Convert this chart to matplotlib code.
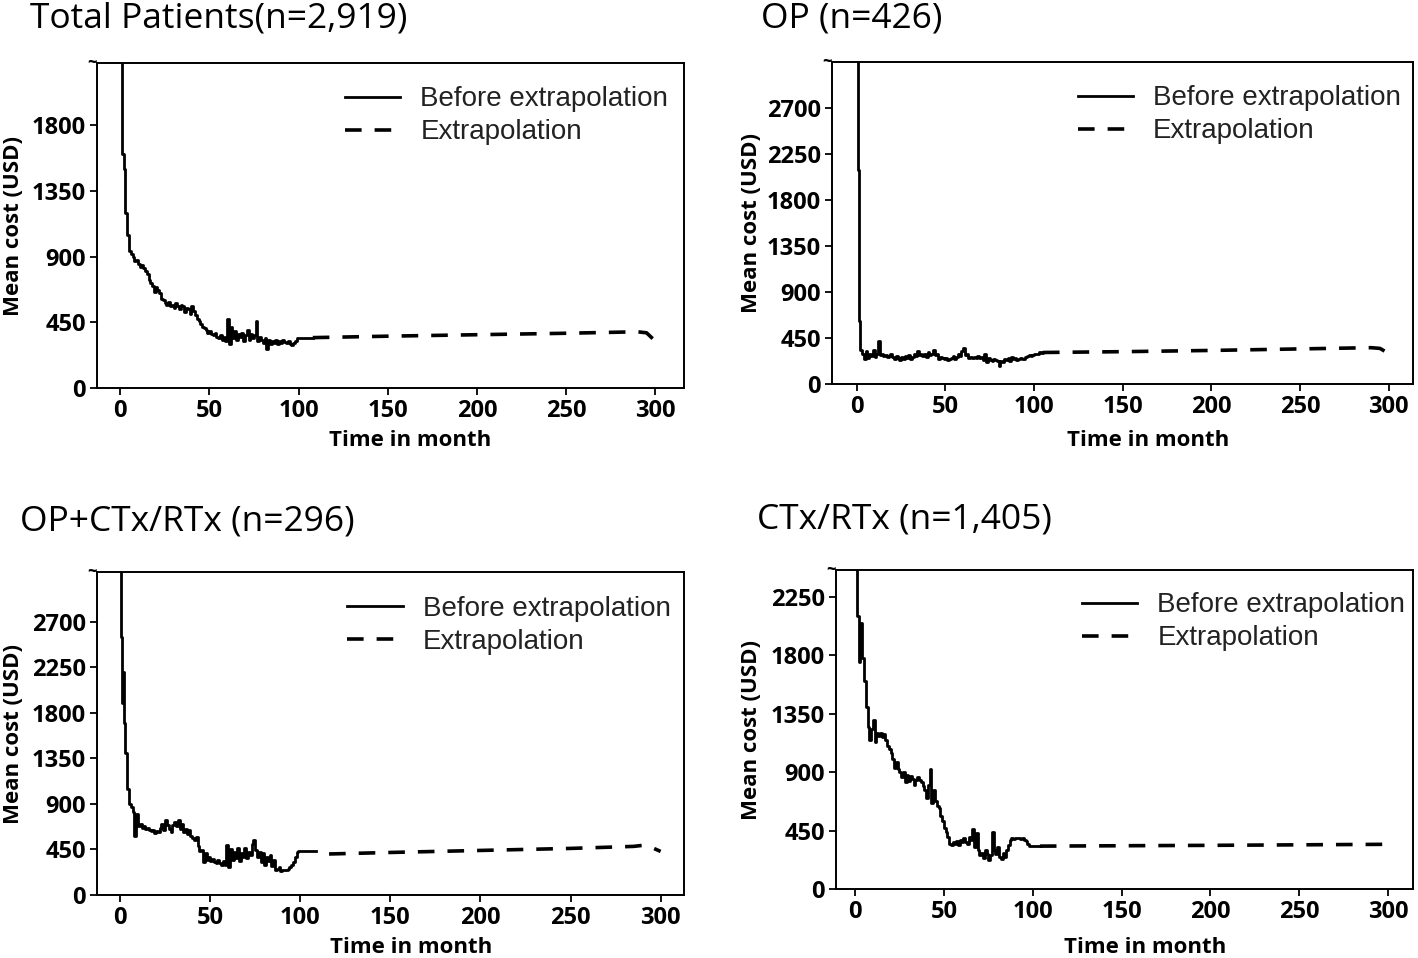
import matplotlib
matplotlib.use("Agg")
import matplotlib.pyplot as plt

# ---- data ----
titles = ["Total Patients(n=2,919)", "OP (n=426)", "OP+CTx/RTx (n=296)", "CTx/RTx (n=1,405)"]
legend_labels = ["Before extrapolation", "Extrapolation"]
x_ticks = [0, 50, 100, 150, 200, 250, 300]
y_ticks_total = [0, 450, 900, 1350, 1800]
y_ticks_op = [0, 450, 900, 1350, 1800, 2250, 2700]
y_ticks_opc = [0, 450, 900, 1350, 1800, 2250, 2700]
y_ticks_ctx = [0, 450, 900, 1350, 1800, 2250]

# Total patients, observed months 0..108
tot_x = list(range(0, 109))
tot_y = [3000, 1600, 1500, 1200, 1050, 940, 920, 900, 870, 880,
         850, 830, 840, 820, 800, 780, 740, 720, 700, 660,
         690, 670, 650, 610, 600, 580, 570, 590, 560, 570,
         550, 580, 560, 540, 570, 560, 520, 550, 540, 510,
         560, 530, 500, 470, 460, 440, 420, 410, 400, 380,
         390, 370, 360, 380, 350, 340, 360, 330, 350, 320,
         470, 300, 420, 340, 390, 330, 370, 350, 380, 320,
         360, 400, 330, 370, 340, 360, 460, 320, 350, 330,
         310, 340, 270, 330, 300, 320, 310, 330, 300, 320,
         310, 330, 315, 305, 320, 300, 295, 310, 325, 340,
         342, 342, 343, 343, 344, 344, 345, 345, 345]
tot_ex_x = [108, 150, 200, 250, 290, 295, 300]
tot_ex_y = [345, 355, 365, 375, 385, 378, 320]

# OP
op_x = [0, 0.5, 1, 1.5] + list(range(2, 106))
op_y = [3300, 2100, 1000, 620, 330, 300, 250, 320, 260, 300,
        280, 330, 270, 300, 420, 290, 300, 280, 290, 270,
        280, 300, 270, 250, 280, 260, 240, 270, 250, 280,
        260, 290, 250, 270, 300, 280, 320, 290, 300, 280,
        300, 270, 310, 290, 300, 330, 290, 300, 250, 270,
        260, 250, 260, 240, 250, 260, 280, 250, 270, 300,
        280, 320, 350, 290, 300, 260, 270, 260, 270, 260,
        280, 260, 270, 240, 300, 220, 260, 240, 230, 250,
        240, 230, 180, 230, 220, 250, 240, 260, 230, 270,
        250, 260, 240, 250, 260, 250, 245, 270, 280, 290,
        280, 290, 300, 295, 300, 310, 305, 310]
op_ex_x = [105, 150, 200, 250, 290, 295, 302]
op_ex_y = [310, 318, 330, 345, 357, 350, 280]

# OP + CTx/RTx
opc_x = [0, 0.5, 1, 1.5] + list(range(2, 110))
opc_y = [3400, 2550, 1900, 2200, 1700, 1400, 1050, 900, 870, 820,
         580, 800, 680, 700, 660, 680, 650, 660, 640, 630,
         640, 610, 630, 620, 660, 700, 640, 740, 690, 650,
         620, 690, 720, 680, 740, 650, 700, 620, 650, 600,
         640, 580, 560, 540, 570, 480, 430, 440, 330, 410,
         350, 380, 340, 360, 330, 320, 350, 320, 300, 340,
         300, 490, 280, 450, 350, 420, 370, 460, 340, 410,
         380, 460, 370, 420, 390, 500, 540, 440, 380, 420,
         330, 410, 300, 380, 340, 390, 290, 350, 250, 260,
         280, 240, 250, 250, 250, 260, 280, 300, 330, 380,
         420, 430, 435, 435, 435, 432, 432, 430, 430, 430,
         430, 430]
opc_ex_x = [116, 150, 200, 250, 285, 290, 295, 300]
opc_ex_y = [405, 420, 440, 460, 480, 490, 470, 430]

# CTx/RTx
ctx_x = list(range(0, 105))
ctx_y = [2700, 2100, 1750, 2050, 1780, 1600, 1400, 1250, 1150, 1230,
         1300, 1130, 1200, 1180, 1200, 1170, 1190, 1150, 1100, 1080,
         1050, 1000, 930, 980, 920, 900, 860, 900, 820, 880,
         830, 870, 850, 800, 840, 860, 840, 820, 790, 760,
         700, 800, 920, 660, 760, 680, 640, 620, 560, 520,
         470, 440, 400, 350, 340, 360, 350, 370, 340, 380,
         360, 390, 360, 350, 400, 380, 460, 320, 430, 300,
         260, 280, 240, 300, 270, 220, 260, 440, 300, 270,
         320, 250, 230, 280, 250, 300, 340, 380, 390, 385,
         390, 395, 390, 385, 390, 380, 370, 350, 330, 330,
         330, 330, 330, 330, 330]
ctx_ex_x = [104, 150, 200, 250, 300]
ctx_ex_y = [330, 333, 336, 340, 344]

panels = [
    (tot_x, tot_y, tot_ex_x, tot_ex_y, y_ticks_total, 2225),
    (op_x, op_y, op_ex_x, op_ex_y, y_ticks_op, 3150),
    (opc_x, opc_y, opc_ex_x, opc_ex_y, y_ticks_opc, 3190),
    (ctx_x, ctx_y, ctx_ex_x, ctx_ex_y, y_ticks_ctx, 2454),
]

axes_rects = [
    [0.0684, 0.595, 0.414, 0.339],
    [0.5867, 0.599, 0.4097, 0.336],
    [0.0684, 0.0658, 0.414, 0.337],
    [0.5896, 0.072, 0.4069, 0.333],
]
title_pos = [(0.021, 0.981), (0.537, 0.981), (0.014, 0.456), (0.534, 0.458)]
xlims = [(-12.9, 316), (-14, 313.6), (-12.8, 313), (-10.7, 314)]
ylabel_x = [-0.124, -0.120, -0.124, -0.128]
xlabel_pos = [(0.533, -0.13), (0.544, -0.143), (0.535, -0.13), (0.535, -0.15)]
legend_anchor = [(0.422, 0.929), (0.423, 0.928), (0.426, 0.926), (0.426, 0.930)]

plt.rcParams['font.family'] = ['Open Sans', 'DejaVu Sans']

fig = plt.figure(figsize=(14.18, 9.58), dpi=100)

for i, (sx, sy, ex, ey, yt, ytop) in enumerate(panels):
    ax = fig.add_axes(axes_rects[i])
    ax.plot(sx, sy, color='black', lw=2.0, drawstyle='steps-post',
            label=legend_labels[0])
    ax.plot(ex, ey, color='black', lw=2.6, linestyle=(0, (4.6, 3.6)),
            label=legend_labels[1])
    ax.set_xlim(*xlims[i])
    ax.set_ylim(0, ytop)
    ax.set_xticks(x_ticks)
    ax.set_yticks(yt)
    for s in ax.spines.values():
        s.set_linewidth(1.4)
    ax.tick_params(direction='out', length=5, width=1.3, labelsize=17, pad=3)
    for lab in ax.get_xticklabels() + ax.get_yticklabels():
        lab.set_fontweight('bold')
    ax.set_xlabel('Time in month', fontsize=16, fontweight='bold')
    ax.set_ylabel('Mean cost (USD)', fontsize=16, fontweight='bold')
    ax.xaxis.set_label_coords(*xlabel_pos[i])
    ax.yaxis.set_label_coords(ylabel_x[i], 0.5)
    # small axis-break squiggle at the top of the y axis
    ax.text(0, 1.0, '~', transform=ax.transAxes, ha='right', va='center',
            fontsize=12, fontweight='bold', clip_on=False)
    leg = ax.legend(loc='upper left', bbox_to_anchor=legend_anchor[i],
                    frameon=False, handlelength=2.0, handletextpad=0.72,
                    labelspacing=0.25, borderaxespad=0, borderpad=0,
                    prop={'family': 'Liberation Sans', 'size': 20})
    for t in leg.get_texts():
        t.set_color('#222222')
    fig.text(title_pos[i][0], title_pos[i][1], titles[i], fontsize=25.5,
             ha='left', va='center')

fig.savefig('out.png', dpi=100)
